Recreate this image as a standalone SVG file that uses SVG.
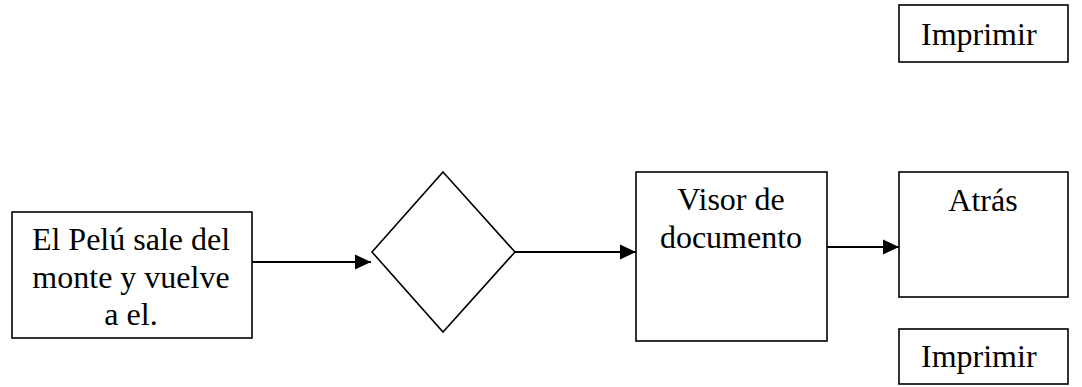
<svg xmlns="http://www.w3.org/2000/svg" width="1082" height="387" viewBox="0 0 1082 387">
<style>
.box{fill:#fff;stroke:#000;stroke-width:1.6}
.t{font-family:"Liberation Serif","Times New Roman",serif;font-size:32px;fill:#000}
.c{text-anchor:middle}
.conn{stroke:#000;stroke-width:2;fill:none}
</style>
<defs>
<marker id="ah" markerUnits="userSpaceOnUse" markerWidth="16" markerHeight="16" refX="16" refY="8" orient="auto">
<path d="M0,0.5 L16,8 L0,15.5 Z" fill="#000"/>
</marker>
</defs>
<rect width="1082" height="387" fill="#fff"/>
<g id="connectors">
<line class="conn" x1="252" y1="262" x2="371" y2="262" marker-end="url(#ah)"/>
<line class="conn" x1="515" y1="252" x2="636" y2="252" marker-end="url(#ah)"/>
<line class="conn" x1="827" y1="247" x2="899" y2="247" marker-end="url(#ah)"/>
</g>
<g id="n1">
<rect class="box" x="12" y="212" width="240" height="126"/>
<text class="t c" x="131" y="250">El Pelú sale del</text>
<text class="t c" x="131" y="288">monte y vuelve</text>
<text class="t c" x="131" y="325">a el.</text>
</g>
<g id="n2">
<polygon class="box" points="443,172 515,252 443,332 372,252"/>
</g>
<g id="n3">
<rect class="box" x="636" y="172" width="191" height="169"/>
<text class="t c" x="731" y="210">Visor de</text>
<text class="t c" x="731" y="248">documento</text>
</g>
<g id="n4">
<rect class="box" x="899" y="172" width="169" height="125"/>
<text class="t c" x="983" y="211">Atrás</text>
</g>
<g id="n5">
<rect class="box" x="899" y="5" width="169" height="57"/>
<text class="t" x="921" y="45">Imprimir</text>
</g>
<g id="n6">
<rect class="box" x="899" y="329" width="169" height="55"/>
<text class="t" x="921" y="367">Imprimir</text>
</g>
</svg>
